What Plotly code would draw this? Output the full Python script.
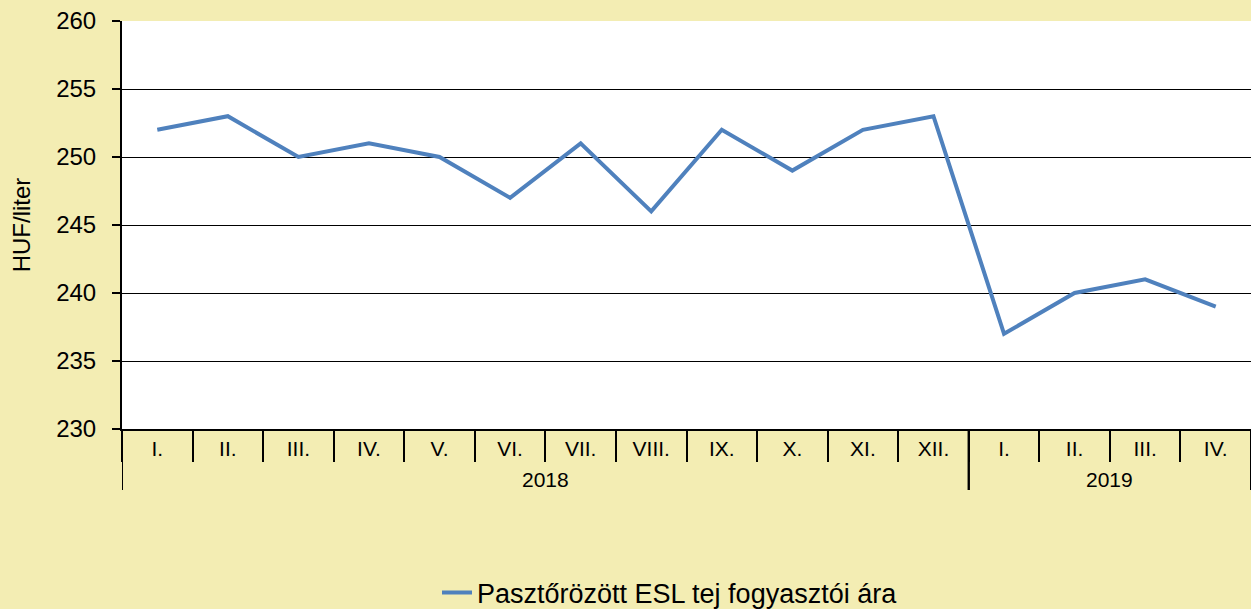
import plotly.graph_objects as go

years = ["2018"] * 12 + ["2019"] * 4
months = ["I.", "II.", "III.", "IV.", "V.", "VI.", "VII.", "VIII.", "IX.", "X.", "XI.", "XII.",
          "I.", "II.", "III.", "IV."]
prices = [252, 253, 250, 251, 250, 247, 251, 246, 252, 249, 252, 253, 237, 240, 241, 239]
series_name = "Pasztőrözött ESL tej fogyasztói ára"
y_ticks = [230, 235, 240, 245, 250, 255, 260]

FONT = "Liberation Sans, Arial, sans-serif"
xpos = list(range(len(months)))

fig = go.Figure()
fig.add_trace(go.Scatter(
    x=xpos, y=prices, mode="lines", name=series_name,
    line=dict(color="#4F81BD", width=4), showlegend=True,
))

# year groups: labels centred under their months, dividers at group boundaries
groups = []
for i, yr in enumerate(years):
    if not groups or groups[-1][0] != yr:
        groups.append([yr, i, i])
    else:
        groups[-1][2] = i
div_len = 61 / 408
for yr, a, b in groups:
    fig.add_annotation(x=(a + b) / 2, y=-50 / 408, xref="x", yref="paper", text=yr,
                       showarrow=False, font=dict(size=21, family=FONT, color="#000000"),
                       yanchor="middle")
    for xb in (a - 0.5, b + 0.5):
        fig.add_shape(type="line", xref="x", yref="paper", x0=xb, x1=xb, y0=0, y1=-div_len,
                      line=dict(color="#000000", width=2))

fig.update_layout(
    width=1251, height=609,
    paper_bgcolor="#F3EDB3", plot_bgcolor="#FFFFFF",
    margin=dict(l=122, r=0, t=21, b=180),
    font=dict(family=FONT, color="#000000"),
    showlegend=True,
    legend=dict(orientation="h", xref="container", yref="container",
                x=670 / 1251, xanchor="center", y=1 - 593 / 609, yanchor="middle",
                font=dict(size=27, family=FONT), bgcolor="rgba(0,0,0,0)"),
    xaxis=dict(
        range=[-0.5, len(months) - 0.5], tickvals=xpos, ticktext=months,
        showline=True, linecolor="#000000", linewidth=2, ticks="",
        tickfont=dict(size=21, family=FONT), showgrid=False, zeroline=False,
        ticklabelstandoff=0,
        minor=dict(tick0=-0.5, dtick=1, ticks="outside", ticklen=31, tickcolor="#000000",
                   tickwidth=2, showgrid=False),
    ),
    yaxis=dict(
        range=[230, 260], tickvals=y_ticks, showgrid=True, gridcolor="#000000", gridwidth=1,
        showline=True, linecolor="#000000", linewidth=2, ticks="outside", ticklen=8,
        tickcolor="#000000", tickwidth=2, tickfont=dict(size=24, family=FONT),
        ticklabelstandoff=11,
        title=dict(text="HUF/liter", font=dict(size=24, family=FONT), standoff=19),
        zeroline=False,
    ),
)

fig.write_html("out.html", config={"displayModeBar": False},
               post_script="document.body.style.margin='0';document.body.style.padding='0';")
